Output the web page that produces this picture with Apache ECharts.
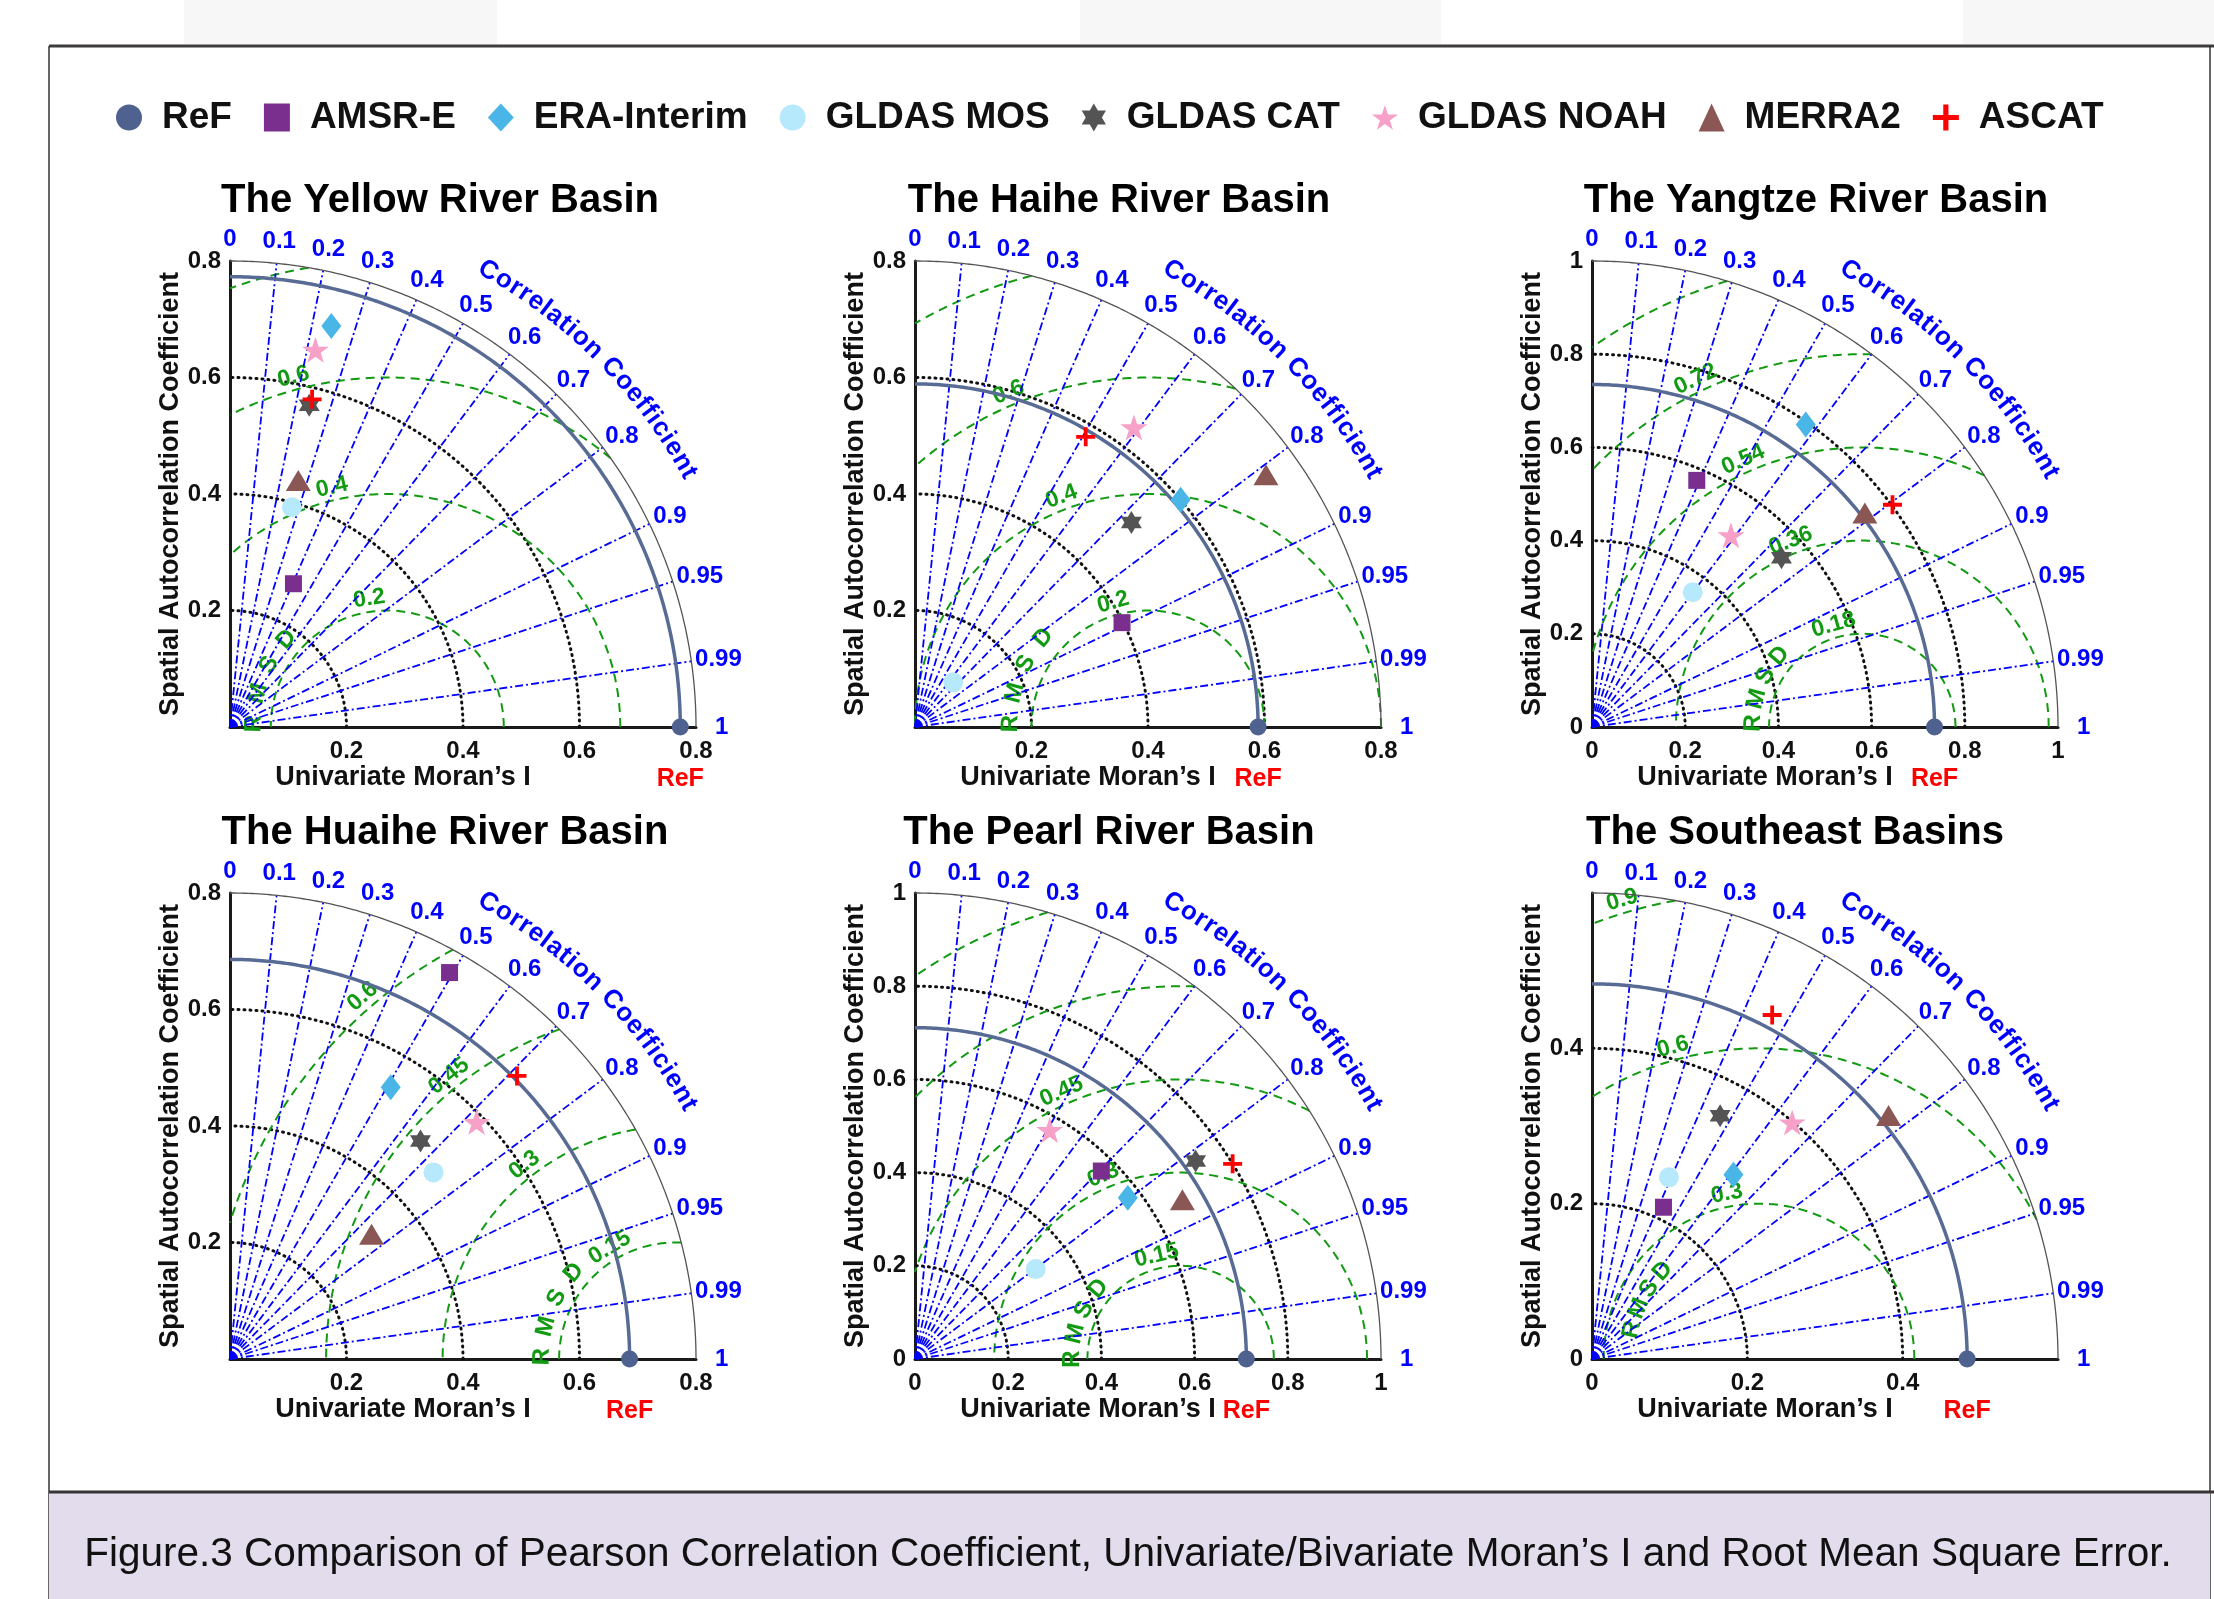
<!DOCTYPE html>
<html>
<head>
<meta charset="utf-8">
<title>Figure 3</title>
<script src="https://cdn.jsdelivr.net/npm/echarts@6.0.0/dist/echarts.min.js"></script>
<style>
  html, body { margin: 0; padding: 0; background: #fff; }
  #main { width: 2214px; height: 1599px; }
</style>
</head>
<body>
<div id="main"></div>
<script>
var FONT = '"Liberation Sans", Arial, Helvetica, sans-serif';

var basins = ['The Yellow River Basin', 'The Haihe River Basin', 'The Yangtze River Basin',
    'The Huaihe River Basin', 'The Pearl River Basin', 'The Southeast Basins'];
var products = ['AMSR-E', 'ERA-Interim', 'GLDAS MOS', 'GLDAS CAT', 'GLDAS NOAH', 'MERRA2', 'ASCAT'];

// univariate Moran's I of the reference field (ReF)
var refMoran = [0.773, 0.589, 0.735, 0.686, 0.711, 0.483];

// spatial autocorrelation coefficient of each product (order = products)
var sacYellow = [0.269, 0.710, 0.392, 0.569, 0.664, 0.439, 0.580];
var sacHaihe = [0.398, 0.600, 0.101, 0.511, 0.637, 0.742, 0.578];
var sacYangtze = [0.575, 0.795, 0.361, 0.545, 0.508, 0.744, 0.802];
var sacHuaihe = [0.763, 0.542, 0.474, 0.497, 0.587, 0.324, 0.692];
var sacPearl = [0.568, 0.573, 0.323, 0.737, 0.570, 0.668, 0.800];
var sacSoutheast = [0.216, 0.299, 0.254, 0.354, 0.399, 0.494, 0.500];

// correlation coefficient with the reference (order = products)
var corYellow = [0.405, 0.245, 0.271, 0.239, 0.221, 0.267, 0.243];
var corHaihe = [0.893, 0.760, 0.651, 0.727, 0.590, 0.812, 0.507];
var corYangtze = [0.391, 0.577, 0.599, 0.746, 0.587, 0.787, 0.804];
var corHuaihe = [0.494, 0.509, 0.737, 0.658, 0.721, 0.750, 0.712];
var corPearl = [0.704, 0.797, 0.802, 0.817, 0.507, 0.859, 0.852];
var corSoutheast = [0.426, 0.609, 0.390, 0.466, 0.646, 0.773, 0.464];

var sac = [sacYellow, sacHaihe, sacYangtze, sacHuaihe, sacPearl, sacSoutheast];
var cor = [corYellow, corHaihe, corYangtze, corHuaihe, corPearl, corSoutheast];

var axisMax = [0.8, 0.8, 1, 0.8, 1, 0.6];
var corrTicks = [0, 0.1, 0.2, 0.3, 0.4, 0.5, 0.6, 0.7, 0.8, 0.9, 0.95, 0.99, 1];

// RMSD circles: centre on the x axis, drawn radii, printed labels
var rmsdCentre = [0.27, 0.4, 0.58, 0.765, 0.57, 0.215];
var rmsdRadii = [
    [0.2, 0.4, 0.6, 0.8], [0.2, 0.4, 0.6, 0.8], [0.2, 0.4, 0.6, 0.8, 1.0],
    [0.2, 0.4, 0.6, 0.8], [0.2, 0.4, 0.6, 0.8, 1.0], [0.2, 0.4, 0.6]
];
var rmsdLabels = [
    ['0.2', '0.4', '0.6'], ['0.2', '0.4', '0.6'], ['0.18', '0.36', '0.54', '0.72'],
    ['0.15', '0.3', '0.45', '0.6'], ['0.15', '0.3', '0.45'], ['0.3', '0.6', '0.9']
];

// ---- layout (pixels / degrees) ----
var gridLeft = [230, 915, 1592, 230, 915, 1592];
var gridTop = [261, 261, 261, 893, 893, 893];
var gridSize = 466;
var titleX = [440, 1119, 1816, 445, 1109, 1795];
var showZero = [false, false, true, false, true, true];
var rmsdLabelDeg = [[98, 103, 105], [105.6, 110.6, 112.6], [105.7, 111, 114, 115.6],
    [120.6, 127.9, 128.7, 130.8], [103, 112.8, 114], [101, 105.4, 106.6]];
// start angle, angle step, radial offset of the "RMSD" letters
var rmsdWord = [[178.6, 13.2, 17], [178.6, 13, 21], [178, 12.9, 16], [179, 13.1, 17], [180, 13.5, 15], [167, 9.8, -25]];

var BLUE = '#0000ff';
var GREEN = '#129a12';
var HEXAGRAM = 'path://M0,-10L2.887,-5L8.66,-5L5.774,0L8.66,5L2.887,5L0,10L-2.887,5L-8.66,5L-5.774,0L-8.66,-5L-2.887,-5Z';
var PENTAGRAM = 'path://M0,-10L2.245,-3.09L9.511,-3.09L3.633,1.18L5.878,8.09L0,3.82L-5.878,8.09L-3.633,1.18L-9.511,-3.09L-2.245,-3.09Z';
var PLUS = 'path://M-2,-10L2,-10L2,-2L10,-2L10,2L2,2L2,10L-2,10L-2,2L-10,2L-10,-2L-2,-2Z';
var symbols = ['rect', 'diamond', 'circle', HEXAGRAM, PENTAGRAM, 'triangle', PLUS];
var symbolSizes = [17, [20, 26], 20, [21, 23], [27, 26], [25, 21], 19];
var colors = ['#7a2e8e', '#4ab6e8', '#b6e9fb', '#545454', '#f7a0c8', '#8b5755', '#ff0000'];
var REF_COLOR = '#4e618f';

var measureCtx = document.createElement('canvas').getContext('2d');
function measure(str, font) {
    measureCtx.font = font;
    return measureCtx.measureText(str).width;
}

function decor(i) {
    var M = axisMax[i], c = rmsdCentre[i], ref = refMoran[i];
    return function (params, api) {
        var o = api.coord([0, 0]);
        var k = (api.coord([M, 0])[0] - o[0]) / M;
        var kids = [];
        function polar(r, a) { return api.coord([r * Math.cos(a), r * Math.sin(a)]); }
        function line(pts, color, width, dash, cap) {
            kids.push({
                type: 'polyline', shape: { points: pts },
                style: { stroke: color, lineWidth: width, lineDash: dash || null, lineCap: cap || 'butt', fill: 'none' }
            });
        }
        function text(str, x, y, rot, color, font) {
            kids.push({
                type: 'text', x: x, y: y, rotation: rot || 0,
                style: { text: str, fill: color, font: font, align: 'center', verticalAlign: 'middle' }
            });
        }
        function arc(r, a0, a1) {
            var pts = [];
            for (var j = 0; j <= 200; j++) pts.push(polar(r, a0 + (a1 - a0) * j / 200));
            return pts;
        }

        // std grid arcs
        for (var j = 1; j * 0.2 < M - 1e-6; j++) {
            line(arc(j * 0.2, 0, Math.PI / 2), '#111', 3, [1, 5], 'round');
        }

        // RMSD circles clipped to the quadrant
        function inside(a, r) {
            var x = c + r * Math.cos(a), y = r * Math.sin(a);
            return x >= 0 && x * x + y * y <= M * M + 1e-9;
        }
        function edge(aIn, aOut, r) {
            for (var t = 0; t < 30; t++) {
                var m = (aIn + aOut) / 2;
                if (inside(m, r)) aIn = m; else aOut = m;
            }
            return aIn;
        }
        rmsdRadii[i].forEach(function (r) {
            var N = 720, runs = [], start = inside(0, r) ? 0 : null, prevA = 0, prevIn = inside(0, r);
            for (var j = 1; j <= N; j++) {
                var a = Math.PI * j / N, ins = inside(a, r);
                if (ins && !prevIn) start = edge(a, prevA, r);
                if (!ins && prevIn) { runs.push([start, edge(prevA, a, r)]); start = null; }
                prevA = a; prevIn = ins;
            }
            if (start !== null) runs.push([start, Math.PI]);
            runs.forEach(function (run) {
                var pts = [];
                for (var q = 0; q <= 200; q++) {
                    var a = run[0] + (run[1] - run[0]) * q / 200;
                    pts.push(api.coord([c + r * Math.cos(a), r * Math.sin(a)]));
                }
                line(pts, GREEN, 2, [9, 6]);
            });
        });
        var cp = api.coord([c, 0]);
        var lblFont = 'bold 23px ' + FONT;
        rmsdLabels[i].forEach(function (lbl, j) {
            var a = rmsdLabelDeg[i][j] * Math.PI / 180;
            var rad = rmsdRadii[i][j] * k + 13;
            text(lbl, cp[0] + rad * Math.cos(a), cp[1] - rad * Math.sin(a), a - Math.PI / 2, GREEN, lblFont);
        });
        var w = rmsdWord[i];
        'RMSD'.split('').forEach(function (ch, j) {
            var a = (w[0] - j * w[1]) * Math.PI / 180;
            var rad = rmsdRadii[i][0] * k + w[2];
            text(ch, cp[0] + rad * Math.cos(a), cp[1] - rad * Math.sin(a), a - Math.PI / 2, GREEN, 'bold 24px ' + FONT);
        });

        // correlation rays and labels
        var corrFont = 'bold 24px ' + FONT;
        corrTicks.forEach(function (R) {
            var a = Math.acos(R);
            var end = polar(M, a);
            if (R > 0 && R < 1) line([o, end], BLUE, 1.8, [8, 3, 2, 3]);
            var str = String(R);
            var tw = measure(str, corrFont);
            var pad = 3 + 7 * Math.sin(a) + (R === 1 ? 16 : 0);
            text(str, end[0] + Math.cos(a) * (tw / 2 + pad), end[1] - Math.sin(a) * (12 + pad), 0, BLUE, corrFont);
        });

        // curved axis title
        var curveFont = 'bold 26px ' + FONT;
        var word = 'Correlation Coefficient'.split('');
        var gap = 1;
        var widths = word.map(function (ch) { return measure(ch, curveFont); });
        var total = widths.reduce(function (s, v) { return s + v; }, 0) + gap * (word.length - 1);
        var crad = 1.125 * M * k, s = -total / 2;
        word.forEach(function (ch, j) {
            var mid = s + widths[j] / 2;
            var a = Math.PI / 4 - mid / crad;
            if (ch !== ' ') text(ch, o[0] + crad * Math.cos(a), o[1] - crad * Math.sin(a), a - Math.PI / 2, BLUE, curveFont);
            s += widths[j] + gap;
        });

        // reference arc and outer boundary
        line(arc(ref, 0, Math.PI / 2), '#586b94', 3.5);
        line(arc(M, 0, Math.PI / 2), '#555', 1.3);

        var rp = api.coord([ref, 0]);
        text('ReF', rp[0], rp[1] + 52, 0, '#ff0000', 'bold 25px ' + FONT);

        return { type: 'group', children: kids };
    };
}

function tickFmt(v) { return String(+v.toFixed(2)); }

var grids = [], xAxes = [], yAxes = [], titles = [], series = [];
basins.forEach(function (name, i) {
    grids.push({ left: gridLeft[i], top: gridTop[i], width: gridSize, height: gridSize });
    titles.push({
        text: name, left: titleX[i], top: gridTop[i] - 80, textAlign: 'center', padding: 0,
        textStyle: { fontSize: 40, fontWeight: 'bold', color: '#000', fontFamily: FONT }
    });
    var axisCommon = {
        gridIndex: i, type: 'value', min: 0, max: axisMax[i], interval: 0.2,
        axisLine: { show: true, onZero: false, lineStyle: { color: '#1a1a1a', width: 3 } },
        axisTick: { show: false },
        splitLine: { show: false },
        nameTextStyle: { fontSize: 27, fontWeight: 'bold', color: '#111', fontFamily: FONT }
    };
    xAxes.push(Object.assign({}, axisCommon, {
        name: 'Univariate Moran’s I', nameLocation: 'middle', nameGap: 37,
        nameTextStyle: Object.assign({}, axisCommon.nameTextStyle, { padding: [0, 120, 0, 0] }),
        axisLabel: {
            fontSize: 24, fontWeight: 'bold', color: '#111', fontFamily: FONT, margin: 12,
            showMinLabel: showZero[i], showMaxLabel: axisMax[i] !== 0.6, formatter: tickFmt
        }
    }));
    yAxes.push(Object.assign({}, axisCommon, {
        name: 'Spatial Autocorrelation Coefficient', nameLocation: 'middle', nameGap: 46, nameRotate: 90,
        axisLabel: {
            fontSize: 24, fontWeight: 'bold', color: '#111', fontFamily: FONT, margin: 9,
            showMinLabel: showZero[i], showMaxLabel: axisMax[i] !== 0.6, formatter: tickFmt
        }
    }));
    series.push({
        type: 'custom', name: 'diagram' + i, xAxisIndex: i, yAxisIndex: i, silent: true, z: 1,
        renderItem: decor(i), data: [[0, 0]]
    });
    series.push({
        type: 'scatter', name: 'ReF', xAxisIndex: i, yAxisIndex: i, z: 4, clip: false,
        symbol: 'circle', symbolSize: 17, itemStyle: { color: REF_COLOR, opacity: 1 },
        data: [[refMoran[i], 0]]
    });
    products.forEach(function (p, j) {
        var r = sac[i][j], R = cor[i][j];
        series.push({
            type: 'scatter', name: p, xAxisIndex: i, yAxisIndex: i, z: 3, clip: false,
            symbol: symbols[j], symbolSize: symbolSizes[j], itemStyle: { color: colors[j], opacity: 1 },
            data: [[r * R, r * Math.sqrt(1 - R * R)]]
        });
    });
});

var legendIcons = ['circle'].concat(symbols);
var legendData = ['ReF'].concat(products).map(function (n, j) { return { name: n, icon: legendIcons[j] }; });

var chart = echarts.init(document.getElementById('main'));
chart.setOption({
    animation: false,
    backgroundColor: '#fff',
    title: titles,
    legend: {
        data: legendData, left: 111, top: 94, itemWidth: 26, itemHeight: 28, itemGap: 32,
        selectedMode: false,
        textStyle: { fontSize: 37, fontWeight: 'bold', color: '#111', fontFamily: FONT, padding: [0, 0, 0, 15] }
    },
    grid: grids,
    xAxis: xAxes,
    yAxis: yAxes,
    series: series,
    graphic: [
        { type: 'rect', shape: { x: 184, y: 0, width: 313, height: 44 }, style: { fill: '#f7f7f7' }, z: -1 },
        { type: 'rect', shape: { x: 1080, y: 0, width: 361, height: 44 }, style: { fill: '#f7f7f7' }, z: -1 },
        { type: 'rect', shape: { x: 1963, y: 0, width: 251, height: 44 }, style: { fill: '#f7f7f7' }, z: -1 },
        { type: 'line', shape: { x1: 49, y1: 46, x2: 2214, y2: 46 }, style: { stroke: '#3e3b3b', lineWidth: 3 } },
        { type: 'line', shape: { x1: 49, y1: 46, x2: 49, y2: 1599 }, style: { stroke: '#333', lineWidth: 1.5 } },
        { type: 'line', shape: { x1: 2210, y1: 46, x2: 2210, y2: 1599 }, style: { stroke: '#333', lineWidth: 1.5 } },
        { type: 'rect', shape: { x: 49, y: 1493, width: 2161, height: 106 }, style: { fill: '#e2dcec' } },
        { type: 'line', shape: { x1: 49, y1: 1492, x2: 2214, y2: 1492 }, style: { stroke: '#3a3535', lineWidth: 3 } },
        {
            type: 'text', x: 1128, y: 1555,
            style: {
                text: 'Figure.3 Comparison of Pearson Correlation Coefficient, Univariate/Bivariate Moran’s I and Root Mean Square Error.',
                font: '40.5px ' + FONT, fill: '#111', align: 'center', verticalAlign: 'middle'
            }
        }
    ]
});
</script>
</body>
</html>
